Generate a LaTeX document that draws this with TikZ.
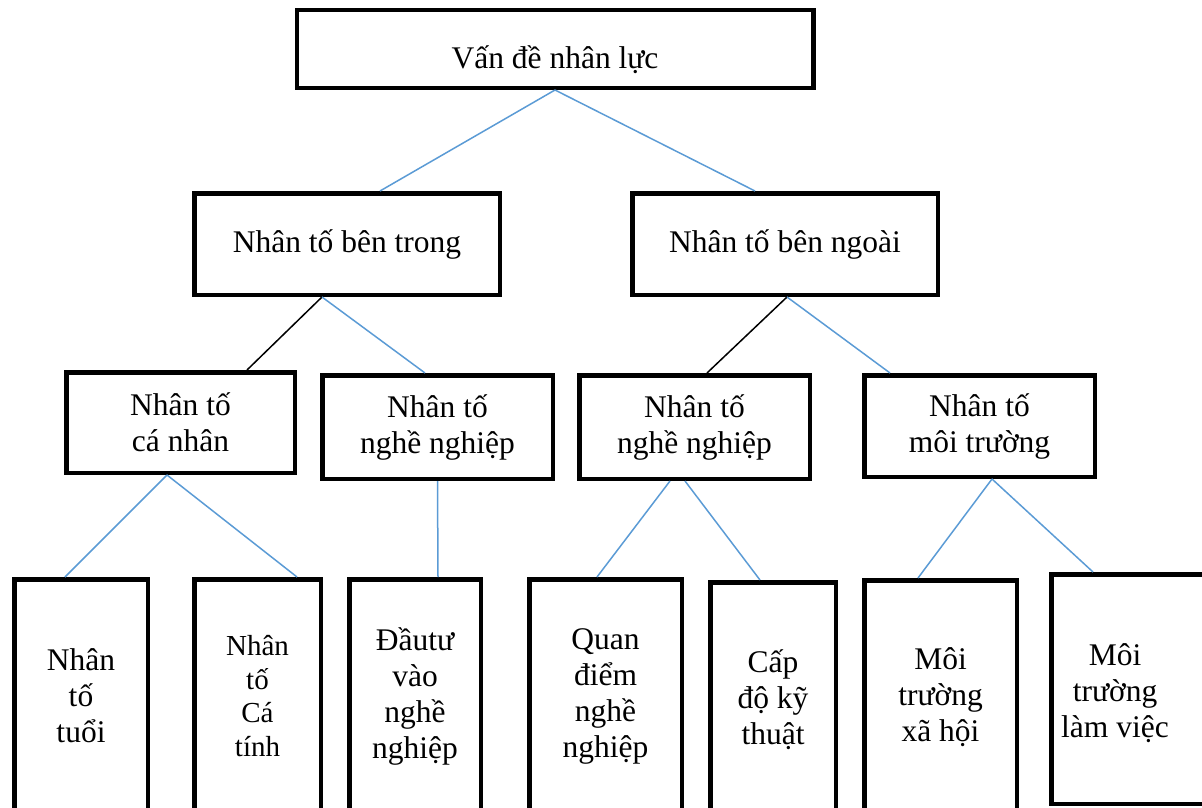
\documentclass[tikz,border=0pt]{standalone}
\usepackage{fontspec}
\setmainfont{Liberation Serif}
\definecolor{lnblue}{RGB}{91,155,213}
\begin{document}
\begin{tikzpicture}[x=1pt,y=-1pt,
  box/.style={draw=black,line width=4.5pt,rectangle,inner sep=2pt,align=center,
    font=\fontsize{31.5}{36}\selectfont},
  txt/.style={inner sep=0pt,align=center,font=\fontsize{31.5}{36}\selectfont},
  bluelink/.style={draw=lnblue,line width=1.5pt},
  blacklink/.style={draw=black,line width=1.5pt}]
\useasboundingbox (0,0) rectangle (1202,808);
\clip (0,0) rectangle (1202,808);
% level 1
\node[box,minimum width=516.5pt,minimum height=77.5pt] (top) at (555,49) {\raisebox{-19pt}[0pt][0pt]{Vấn đề nhân lực}};
% level 2
\node[box,minimum width=305.5pt,minimum height=101.5pt] (bentrong) at (347,244) {Nhân tố bên trong};
\node[box,minimum width=305.5pt,minimum height=101.5pt] (benngoai) at (785,244) {Nhân tố bên ngoài};
% level 3
\node[box,minimum width=228.5pt,minimum height=100.5pt] (canhan) at (180.5,422.5) {Nhân tố\\cá nhân};
\node[box,minimum width=230.5pt,minimum height=103.5pt] (nnl) at (437.5,427) {Nhân tố\\nghề nghiệp};
\node[box,minimum width=230.5pt,minimum height=103.5pt] (nnr) at (694.5,427) {Nhân tố\\nghề nghiệp};
\node[box,minimum width=230.5pt,minimum height=101.5pt] (moitruong) at (979.5,426) {Nhân tố\\môi trường};
% level 4
\node[box,minimum width=133.5pt,minimum height=233.5pt] (tuoi) at (81,696) {Nhân\\tố\\tuổi};
\node[box,minimum width=126.5pt,minimum height=233.5pt,font=\fontsize{29}{33.5}\selectfont] (catinh) at (257.5,696) {Nhân\\tố\\Cá\\tính};
\node[box,minimum width=131.5pt,minimum height=233.5pt] (dautu) at (415,696) {Đầutư\\vào\\nghề\\nghiệp};
\node[box,minimum width=152.5pt,minimum height=233.5pt] (quan) at (605.5,696) {Quan\\điểm\\nghề\\nghiệp};
\node[box,minimum width=125.5pt,minimum height=235.5pt] (cap) at (773,700) {Cấp\\độ kỹ\\thuật};
\node[box,minimum width=152.5pt,minimum height=233.5pt] (xahoi) at (940.5,697) {Môi\\trường\\xã hội};
\node[box,minimum width=161.5pt,minimum height=229.5pt] (lamviec) at (1132,689) {};
\node[txt] (lamviectext) at (1115,693) {Môi\\trường\\làm việc};
% connectors
\draw[bluelink] (top.south) -- ([xshift=188pt]bentrong.north west);
\draw[bluelink] (top.south) -- ([xshift=125pt]benngoai.north west);
\draw[blacklink] ([xshift=-25pt]bentrong.south) -- ([xshift=183pt]canhan.north west);
\draw[bluelink] ([xshift=-25pt]bentrong.south) -- ([xshift=105pt]nnl.north west);
\draw[blacklink] ([xshift=2pt]benngoai.south) -- ([xshift=130pt]nnr.north west);
\draw[bluelink] ([xshift=2pt]benngoai.south) -- ([xshift=28pt]moitruong.north west);
\draw[bluelink] ([xshift=-13.5pt]canhan.south) -- ([xshift=53pt]tuoi.north west);
\draw[bluelink] ([xshift=-13.5pt]canhan.south) -- ([xshift=105pt]catinh.north west);
\draw[bluelink] (nnl.south) -- ([xshift=91pt]dautu.north west);
\draw[bluelink] ([xshift=-24.5pt]nnr.south) -- ([xshift=70pt]quan.north west);
\draw[bluelink] ([xshift=-9.5pt]nnr.south) -- ([xshift=52pt]cap.north west);
\draw[bluelink] ([xshift=12.5pt]moitruong.south) -- ([xshift=56pt]xahoi.north west);
\draw[bluelink] ([xshift=12.5pt]moitruong.south) -- ([xshift=44pt]lamviec.north west);
\end{tikzpicture}
\end{document}
